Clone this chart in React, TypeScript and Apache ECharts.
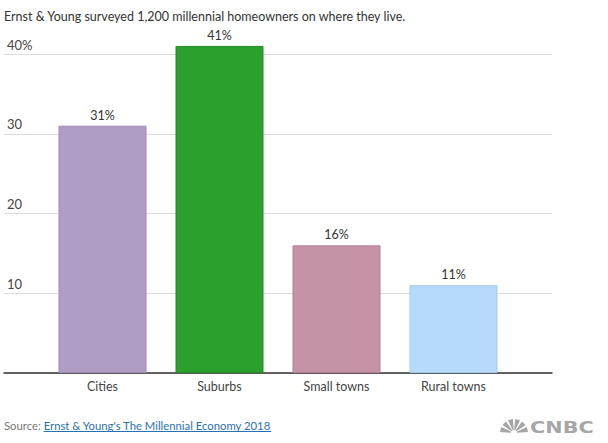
import React, { useEffect, useRef } from "react";
import * as echarts from "echarts";

const title = "Ernst & Young surveyed 1,200 millennial homeowners on where they live.";
const categories = ["Cities", "Suburbs", "Small towns", "Rural towns"];
const shares = [31, 41, 16, 11];
const barColors = ["#b09dc3", "#2ca02c", "#c592a8", "#b7d9fc"];
const barBorders = ["#9f8bb3", "#238b23", "#b37f96", "#a3c8ec"];
const yTicks = [0, 10, 20, 30, 40];
const sourceLabel = "Source: ";
const sourceLink = "Ernst & Young's The Millennial Economy 2018";

const FONT = "Lato, 'Open Sans', sans-serif";

function measure(text: string, font: string): number {
  const c = document.createElement("canvas");
  const ctx = c.getContext("2d");
  if (!ctx) return text.length * 6;
  ctx.font = font;
  return ctx.measureText(text).width;
}

export default function App() {
  const ref = useRef<HTMLDivElement>(null);
  useEffect(() => {
    if (!ref.current) return;
    const chart = echarts.init(ref.current, undefined, { renderer: "svg" });
    const srcFont = "11.3px Lato";
    const srcW = measure(sourceLabel, srcFont);
    const linkW = measure(sourceLink, srcFont);
    const linkX = 4 + srcW;
    const feathers = [0, 1, 2, 3, 4, 5].map((i) => {
      const span = Math.PI / 6;
      const start = Math.PI + i * span + 0.08;
      const end = Math.PI + (i + 1) * span - 0.08;
      return {
        type: "sector",
        shape: { cx: 514, cy: 433, r0: 3, r: 14, startAngle: start, endAngle: end },
        style: { fill: "#a6a6a6" },
      };
    });
    chart.setOption({
      animation: false,
      grid: [
        { left: 4, right: 56, top: 54, bottom: 70 },
        { left: 44, right: 96, top: 14, bottom: 70 },
      ],
      xAxis: [
        {
          gridIndex: 0,
          type: "value",
          min: 0,
          max: 1,
          axisLine: { show: true, onZero: false, lineStyle: { color: "#333", width: 1.5 } },
          axisTick: { show: false },
          axisLabel: { show: false },
          splitLine: { show: false },
        },
        {
          gridIndex: 1,
          type: "category",
          data: categories,
          axisLine: { show: false },
          axisTick: { show: false },
          axisLabel: { color: "#444", fontSize: 12.5, fontFamily: FONT, margin: 7 },
        },
      ],
      yAxis: [
        {
          gridIndex: 0,
          type: "value",
          min: 0,
          max: 40,
          interval: 10,
          axisLine: { show: false },
          axisTick: { show: false },
          splitLine: { lineStyle: { color: "#dcdcdc", width: 1 } },
          axisLabel: {
            inside: true,
            margin: 3,
            verticalAlign: "bottom",
            padding: [0, 0, 3, 0],
            color: "#444",
            fontSize: 13,
            fontFamily: FONT,
            formatter: (v: number) =>
              v === yTicks[0] ? "" : v === yTicks[yTicks.length - 1] ? v + "%" : String(v),
          },
        },
        { gridIndex: 1, type: "value", min: 0, max: 45, show: false },
      ],
      series: [
        {
          type: "bar",
          xAxisIndex: 1,
          yAxisIndex: 1,
          barWidth: 88,
          data: shares.map((v, i) => ({
            value: v,
            itemStyle: { color: barColors[i], borderColor: barBorders[i], borderWidth: 1 },
          })),
          label: {
            show: true,
            position: "top",
            distance: 4,
            formatter: "{c}%",
            color: "#333",
            fontSize: 12.5,
            fontFamily: FONT,
          },
        },
      ],
      graphic: [
        {
          type: "text",
          left: 4,
          top: 10,
          style: { text: title, fill: "#333", font: "12.5px Lato" },
        },
        {
          type: "text",
          x: 4,
          y: 425,
          style: { text: sourceLabel, fill: "#777", font: srcFont, verticalAlign: "middle" },
        },
        {
          type: "text",
          x: linkX,
          y: 425,
          style: { text: sourceLink, fill: "#2a6fb0", font: srcFont, verticalAlign: "middle" },
        },
        {
          type: "line",
          shape: { x1: linkX, y1: 431.5, x2: linkX + linkW, y2: 431.5 },
          style: { stroke: "#2a6fb0", lineWidth: 1 },
        },
        ...feathers,
        {
          type: "text",
          x: 530,
          y: 427,
          scaleX: 1.3,
          style: {
            text: "CNBC",
            fill: "#a6a6a6",
            font: "bold 16px 'DejaVu Sans'",
            verticalAlign: "middle",
          },
        },
      ],
    });
    return () => chart.dispose();
  }, []);
  return (
    <div
      ref={ref}
      style={{ position: "absolute", left: 0, top: 0, width: 608, height: 443 }}
    />
  );
}
